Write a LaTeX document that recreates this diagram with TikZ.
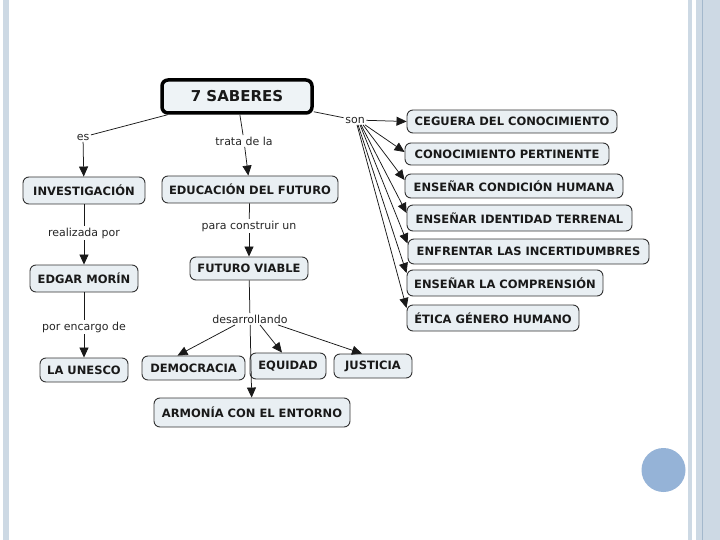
\documentclass[tikz,border=0pt]{standalone}
\usepackage{fontspec}
\setmainfont{DejaVu Sans}
\usetikzlibrary{arrows.meta}
\definecolor{stripe}{HTML}{CDD9E4}
\definecolor{stripedark}{HTML}{A3B8CC}
\definecolor{boxfill}{HTML}{E9EFF3}
\definecolor{titlefill}{HTML}{EEF3F6}
\definecolor{dotblue}{HTML}{95B3D7}
\begin{document}
\begin{tikzpicture}[x=1pt,y=-1pt,
  concept/.style={draw=black!80, line width=0.9pt, rounded corners=6pt, fill=boxfill,
    font=\fontsize{11.5}{13}\selectfont\bfseries, text=black!90, inner sep=0pt, align=center},
  titlebox/.style={concept, draw=black, line width=3.5pt, fill=titlefill,
    font=\fontsize{15}{17}\selectfont\bfseries},
  lbl/.style={font=\fontsize{11}{13}\selectfont, text=black!85, inner sep=1.5pt},
  link/.style={draw=black!90, line width=0.75pt},
  arr/.style={link, -{Triangle[length=10pt,width=9pt]}},
]
\path[use as bounding box] (0,0) rectangle (720,540);
\fill[white] (0,0) rectangle (720,540);
% slide decorations
\fill[stripe] (3,0) rectangle (9,540);
\fill[stripe] (688,0) rectangle (692,540);
\fill[stripe] (696,0) rectangle (720,540);
\fill[stripedark] (702,0) rectangle (703,540);
\fill[dotblue] (663.5,470) circle (22);

% concepts
\node[titlebox, minimum width=150pt, minimum height=33pt] (title) at (237,96.5) {7 SABERES};

\node[concept, minimum width=210pt, minimum height=23pt] (ceguera) at (512,121.5) {CEGUERA DEL CONOCIMIENTO};
\node[concept, minimum width=204pt, minimum height=22pt] (conoc) at (507,154) {CONOCIMIENTO PERTINENTE};
\node[concept, minimum width=218pt, minimum height=24pt] (cond) at (514,186) {ENSEÑAR CONDICIÓN HUMANA};
\node[concept, minimum width=225pt, minimum height=26pt] (ident) at (519.5,218) {ENSEÑAR IDENTIDAD TERRENAL};
\node[concept, minimum width=241pt, minimum height=25pt] (enfr) at (528.5,251.5) {ENFRENTAR LAS INCERTIDUMBRES};
\node[concept, minimum width=196pt, minimum height=26pt] (compr) at (505,283) {ENSEÑAR LA COMPRENSIÓN};
\node[concept, minimum width=172pt, minimum height=26pt] (etica) at (493,318) {ÉTICA GÉNERO HUMANO};

\node[concept, minimum width=122pt, minimum height=27pt] (invest) at (84,190.5) {INVESTIGACIÓN};
\node[concept, minimum width=108pt, minimum height=27pt] (edgar) at (84,278.5) {EDGAR MORÍN};
\node[concept, minimum width=88pt, minimum height=24pt] (unesco) at (84,370) {LA UNESCO};

\node[concept, minimum width=176pt, minimum height=27pt] (edu) at (250,189.5) {EDUCACIÓN DEL FUTURO};
\node[concept, minimum width=118pt, minimum height=23pt] (futuro) at (249,268.5) {FUTURO VIABLE};
\node[concept, minimum width=103pt, minimum height=24pt] (demo) at (193.5,368) {DEMOCRACIA};
\node[concept, minimum width=76pt, minimum height=26pt, text depth=0pt] (equidad) at (288,366) {\raisebox{1.5pt}{EQUIDAD}};
\node[concept, minimum width=78pt, minimum height=24pt] (justicia) at (373,366) {JUSTICIA};
\node[concept, minimum width=196pt, minimum height=29pt] (armonia) at (252,412.5) {ARMONÍA CON EL ENTORNO};

% linking phrases
\node[lbl] (es) at (83,137) {es};
\node[lbl] (trata) at (244,141) {trata de la};
\node[lbl] (son) at (355,120) {son};
\node[lbl] (realizada) at (84,233) {realizada por};
\node[lbl] (encargo) at (84,327) {por encargo de};
\node[lbl] (construir) at (249,226) {para construir un};
\node[lbl] (desarr) at (250,319) {desarrollando};

% connectors
\draw[link] (title) -- (es);
\draw[arr] (es) -- (invest);
\draw[link] (title) -- (trata);
\draw[arr] (trata) -- (edu);
\draw[link] (title) -- (son);

\draw[arr] (son) -- (ceguera.west);
\draw[arr] ([xshift=10pt]son.south) -- ([yshift=2pt]conoc.west);
\draw[arr] ([xshift=8pt]son.south) -- ([yshift=6pt]cond.west);
\draw[arr] ([xshift=6pt]son.south) -- ([yshift=5pt]ident.west);
\draw[arr] ([xshift=5pt]son.south) -- ([yshift=8pt]enfr.west);
\draw[arr] ([xshift=3pt]son.south) -- ([yshift=10pt]compr.west);
\draw[arr] ([xshift=2pt]son.south) -- ([yshift=10pt]etica.west);

\draw[link] (invest) -- (realizada);
\draw[arr] (realizada) -- (edgar);
\draw[link] (edgar) -- (encargo);
\draw[arr] (encargo) -- (unesco);

\draw[link] (edu) -- (construir);
\draw[arr] (construir) -- (futuro);
\draw[link] (futuro) -- (desarr);
\draw[arr] ([xshift=-15pt]desarr.south) -- ([xshift=-16pt]demo.north);
\draw[arr] ([xshift=10pt]desarr.south) -- ([xshift=-6pt]equidad.north);
\draw[arr] ([xshift=28pt]desarr.south) -- ([xshift=-11pt]justicia.north);
\draw[arr] (desarr) -- (armonia);
\end{tikzpicture}
\end{document}
